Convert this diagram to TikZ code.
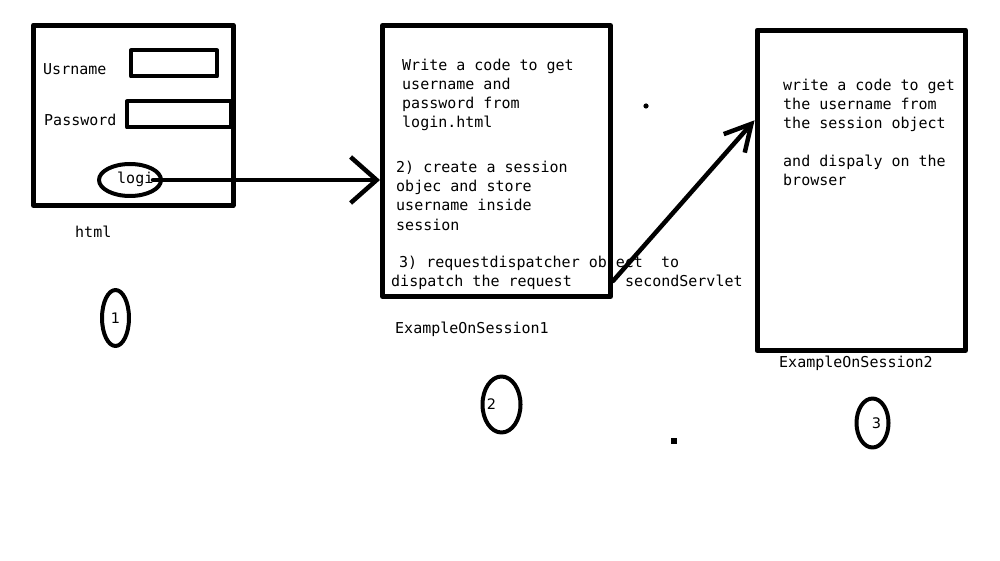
\documentclass[tikz,border=0pt]{standalone}
\usepackage{fontspec}
\setmonofont{DejaVu Sans Mono}
\setsansfont{DejaVu Sans}
\usetikzlibrary{shapes.geometric,arrows.meta,positioning}
\tikzset{
	box/.style={draw, line width=5pt, inner sep=0pt},
	field/.style={draw, line width=4pt, inner sep=0pt},
	txt/.style={font=\ttfamily\fontsize{15}{19}\selectfont, inner sep=0pt, anchor=base west},
	oval/.style={draw, ellipse, line width=4pt, inner sep=0pt},
	num/.style={font=\sffamily\fontsize{14.5}{16}\selectfont, inner sep=0pt},
	conn/.style={line width=4.5pt}
}
\begin{document}
\begin{tikzpicture}[x=1pt, y=-1pt, line join=round, line cap=round]
	\useasboundingbox (0,0) rectangle (1000,561);
	%% Khung html
	\node[box, minimum width=199.5pt, minimum height=180.5pt] (page) at (133.3,115.3) {};
	\node[field, minimum width=86pt, minimum height=26pt] (user) at (174,63.5) {};
	\node[field, minimum width=104pt, minimum height=26pt] (pass) at (179,114.5) {};
	\node[txt] (lbuser) at (43,75) {Usrname};
	\node[txt] (lbpass) at (44,126) {Password};
	\node[oval, minimum width=62pt, minimum height=32pt] (login) at (130,180) {};
	\node[txt] (lblogin) at (117,184) {logi};
	\node[txt] (html) at (75,237) {html};
	
	%% Khung ExampleOnSession1
	\node[box, minimum width=228pt, minimum height=271pt] (srv1) at (496.5,161) {};
	\foreach \y/\t [count=\i] in {71/Write a code to get, 90/username and, 109/password from, 128/login.html}
	\node[txt] (get\i) at (402,\y) {\t};
	\foreach \y/\t [count=\i] in {173/2) create a session, 192/objec and store, 211/username inside, 230/session}
	\node[txt] (store\i) at (396,\y) {\t};
	\node[txt] (disp1) at (399,267) {3) requestdispatcher object\ \ to};
	\node[txt] (disp2) at (391,286) {dispatch the request};
	\node[txt] (second) at (625,286) {secondServlet};
	\node[txt] (name1) at (395,333) {ExampleOnSession1};
	
	%% Khung ExampleOnSession2
	\node[box, minimum width=208.5pt, minimum height=320.5pt] (srv2) at (861.3,190.3) {};
	\foreach \y/\t [count=\i] in {91/write a code to get, 110/the username from, 129/the session object, 167/and dispaly on the, 186/browser}
	\node[txt] (show\i) at (783,\y) {\t};
	\node[txt] (name2) at (779,367) {ExampleOnSession2};
	
	%% Mui ten
	\draw[conn, -{Straight Barb[length=26pt, width=46pt]}] ([xshift=-10pt]login.east) -- (login.east -| srv1.west);
	\coordinate (fwd) at (613,281);
	\draw[conn, -{Straight Barb[length=26pt, width=28pt]}] (fwd) -- ([yshift=70pt]srv2.west);
	
	%% Danh so
	\node[oval, minimum width=27pt, minimum height=56pt] (o1) at (115.5,318) {};
	\node[oval, minimum width=38pt, minimum height=56pt] (o2) at (501.5,404.5) {};
	\node[oval, minimum width=32pt, minimum height=49pt] (o3) at (872.5,423) {};
	\node[num] (n1) at (o1) {1};
	\node[num] (n2) at ([xshift=-10pt]o2.center) {2};
	\node[num] (n3) at ([xshift=4pt]o3.center) {3};
	
	%% Cac dau cham
	\fill (646,106) circle (2.6);
	\fill (671,438) rectangle (677,444);
\end{tikzpicture}
\end{document}
